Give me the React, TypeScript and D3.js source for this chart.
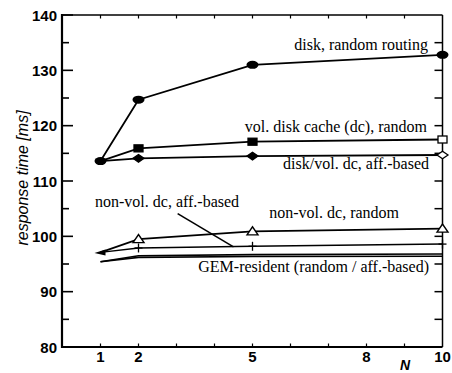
import React from "react";
import * as d3 from "d3";

const nValues = [1, 2, 5, 10];
const diskRandom = [113.6, 124.7, 131.0, 132.8];
const volDcRandom = [113.6, 115.9, 117.1, 117.5];
const diskVolAff = [113.6, 114.1, 114.5, 114.7];
const nonVolRandom = [97.1, 99.5, 100.9, 101.4];
const nonVolAff = [97.1, 97.9, 98.2, 98.6];
const gemRandom = [95.4, 96.5, 96.7, 96.8];
const gemAff = [95.4, 96.2, 96.35, 96.4];

const xTickLabels = [1, 2, 5, 8, 10];
const yTickLabels = [80, 90, 100, 110, 120, 130, 140];
const xMinorTicks = [1, 2, 3, 4, 5, 6, 7, 8, 9];
const yMinorTicks = [85, 95, 105, 115, 125, 135];
const yRightTicks = [85, 90, 95, 100, 105, 110, 115, 120, 125, 130, 135];

// annotation pointer for "non-vol. dc, aff.-based" (data coords)
const pointerFrom = [3.03, 104.1];
const pointerTo = [4.5, 98.1];

const W = 452;
const H = 373;
const L = 62;
const R = 442.5;
const T = 15;
const B = 347;

export default function App() {
  const x = d3.scaleLinear().domain([0, 10]).range([L + 0.5, R]);
  const y = d3.scaleLinear().domain([80, 140]).range([B, T]);
  const line = d3
    .line<number>()
    .x((_, i) => x(nValues[i]))
    .y((d) => y(d));

  const serif = "'Liberation Serif', 'Times New Roman', serif";
  const sans = "'Liberation Sans', Arial, Helvetica, sans-serif";

  const ellipse = (cx: number, cy: number, k: string) => (
    <ellipse key={k} cx={cx} cy={cy} rx={6} ry={4} fill="#000" />
  );
  const square = (cx: number, cy: number, open: boolean, k: string) => (
    <rect
      key={k}
      x={cx - 4.5}
      y={cy - 3.5}
      width={9}
      height={7}
      fill={open ? "#fff" : "#000"}
      stroke="#000"
      strokeWidth={1.3}
    />
  );
  const diamond = (cx: number, cy: number, open: boolean, k: string) => (
    <path
      key={k}
      d={`M${cx - 5.5},${cy}L${cx},${cy - 3.8}L${cx + 5.5},${cy}L${cx},${cy + 3.8}Z`}
      fill={open ? "#fff" : "#000"}
      stroke="#000"
      strokeWidth={1.3}
    />
  );
  const triangle = (cx: number, cy: number, k: string) => (
    <path
      key={k}
      d={`M${cx - 5.5},${cy + 3.5}L${cx},${cy - 4.5}L${cx + 5.5},${cy + 3.5}Z`}
      fill="#fff"
      stroke="#000"
      strokeWidth={1.4}
    />
  );
  const plus = (cx: number, cy: number, k: string) => (
    <g key={k} stroke="#000" strokeWidth={1.3}>
      <line x1={cx} x2={cx} y1={cy - 4.5} y2={cy + 4.5} />
      <line x1={cx - 4} x2={cx + 4} y1={cy} y2={cy} />
    </g>
  );

  const lw = 1.8;

  return (
    <svg
      width={W}
      height={H}
      style={{ position: "absolute", left: 0, top: 0, background: "#fff" }}
    >
      <rect width={W} height={H} fill="#fff" />
      {/* frame */}
      <line x1={L} x2={R} y1={T} y2={T} stroke="#000" strokeWidth={1.5} />
      <line x1={R} x2={R} y1={T} y2={B} stroke="#000" strokeWidth={1.5} />
      <line x1={L} x2={L} y1={T - 1} y2={B + 1} stroke="#000" strokeWidth={2.2} />
      <line x1={L} x2={R} y1={B} y2={B} stroke="#000" strokeWidth={2.2} />

      {/* left ticks */}
      {yTickLabels.map((v) => (
        <g key={"yl" + v}>
          <line x1={L} x2={L + 11} y1={y(v)} y2={y(v)} stroke="#000" strokeWidth={1.6} />
          <text
            x={L - 5}
            y={y(v) + 5.5}
            textAnchor="end"
            fontFamily={sans}
            fontWeight="bold"
            fontSize={15}
          >
            {v}
          </text>
        </g>
      ))}
      {yMinorTicks.map((v) => (
        <line key={"ym" + v} x1={L} x2={L + 7} y1={y(v)} y2={y(v)} stroke="#000" strokeWidth={1.6} />
      ))}
      {/* right ticks */}
      {yRightTicks.map((v) => (
        <line key={"yr" + v} x1={R - 8} x2={R} y1={y(v)} y2={y(v)} stroke="#000" strokeWidth={1.5} />
      ))}
      {/* x ticks */}
      {xMinorTicks.map((v) => (
        <g key={"xm" + v}>
          <line x1={x(v)} x2={x(v)} y1={B} y2={B - 3.5} stroke="#000" strokeWidth={1.2} />
          <line x1={x(v)} x2={x(v)} y1={T} y2={T + 3.5} stroke="#000" strokeWidth={1.2} />
        </g>
      ))}
      {xTickLabels.map((v) => (
        <text
          key={"xl" + v}
          x={x(v)}
          y={362}
          textAnchor="middle"
          fontFamily={sans}
          fontWeight="bold"
          fontSize={15}
        >
          {v}
        </text>
      ))}
      <text x={405} y={370} textAnchor="middle" fontFamily={sans} fontWeight="bold" fontStyle="italic" fontSize={14}>
        N
      </text>
      <text
        transform={`translate(28,178) rotate(-90)`}
        textAnchor="middle"
        fontFamily={sans}
        fontStyle="italic"
        fontSize={16}
      >
        response time [ms]
      </text>

      {/* lines */}
      <g fill="none" stroke="#000" strokeWidth={lw}>
        <path d={line(diskRandom) || ""} />
        <path d={line(volDcRandom) || ""} />
        <path d={line(diskVolAff) || ""} />
        <path d={line(nonVolRandom) || ""} />
        <path d={line(nonVolAff) || ""} strokeWidth={1.5} />
        <path d={line(gemRandom) || ""} strokeWidth={1.6} />
        <path d={line(gemAff) || ""} strokeWidth={1.6} />
        <line
          x1={x(pointerFrom[0])}
          y1={y(pointerFrom[1])}
          x2={x(pointerTo[0])}
          y2={y(pointerTo[1])}
          strokeWidth={1.6}
        />
      </g>

      {/* markers */}
      {nValues.map((n, i) => (i === 0 ? null : ellipse(x(n), y(diskRandom[i]), "dr" + i)))}
      {nValues.map((n, i) =>
        i === 0 ? null : square(x(n), y(volDcRandom[i]), i === nValues.length - 1, "vd" + i)
      )}
      {nValues.map((n, i) =>
        i === 0 ? null : diamond(x(n), y(diskVolAff[i]), i === nValues.length - 1, "da" + i)
      )}
      {ellipse(x(nValues[0]), y(diskRandom[0]), "dr0")}
      {nValues.map((n, i) => (i === 0 ? null : triangle(x(n), y(nonVolRandom[i]), "nr" + i)))}
      {nValues.map((n, i) => (i === 0 ? null : plus(x(n), y(nonVolAff[i]), "na" + i)))}
      <path
        d={`M${x(nValues[0]) - 6},${y(nonVolRandom[0]) + 0.5}L${x(nValues[0]) + 5},${y(nonVolRandom[0]) - 3}L${x(nValues[0]) + 5},${y(nonVolRandom[0]) + 3}Z`}
        fill="#000"
      />

      {/* annotations */}
      <g fontFamily={serif} fontSize={16} fill="#000">
        <text x={428} y={50} textAnchor="end">disk, random routing</text>
        <text x={427} y={132} textAnchor="end">vol. disk cache (dc), random</text>
        <text x={429} y={169} textAnchor="end">disk/vol. dc, aff.-based</text>
        <text x={95} y={207}>non-vol. dc, aff.-based</text>
        <text x={399} y={218} textAnchor="end">non-vol. dc, random</text>
        <text x={429} y={272} textAnchor="end">GEM-resident (random / aff.-based)</text>
      </g>
    </svg>
  );
}
